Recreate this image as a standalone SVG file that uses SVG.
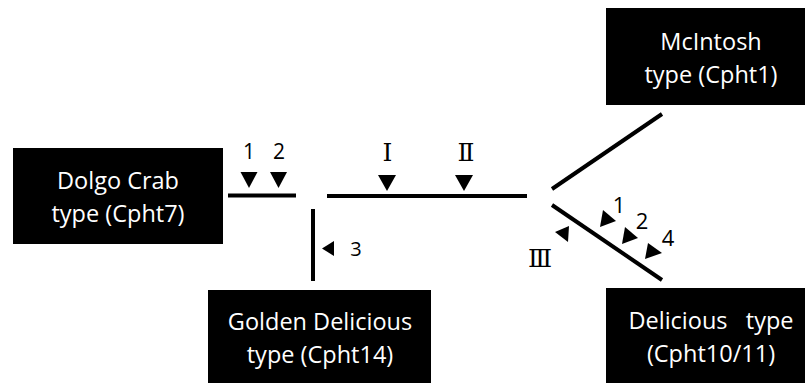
<svg xmlns="http://www.w3.org/2000/svg" width="805" height="383" viewBox="0 0 805 383">
<style>
.box{fill:#000}
.bt{fill:#fff;font-family:"Open Sans","Noto Sans",sans-serif;font-size:23.5px;text-anchor:middle}
.ln{stroke:#000;stroke-width:4;fill:none}
.tri{fill:#000}
.num{fill:#000;font-family:"Open Sans","Noto Sans",sans-serif;text-anchor:middle}
.rom{fill:#000;font-family:"DejaVu Serif","Noto Sans CJK JP",serif;text-anchor:middle}
</style>
<rect width="805" height="383" fill="#fff"/>
<g id="dolgo">
<rect class="box" x="13" y="148" width="210" height="96"/>
<text class="bt" x="118" y="189">Dolgo Crab</text>
<text class="bt" x="118" y="222">type (Cpht7)</text>
</g>
<g id="mcintosh">
<rect class="box" x="606" y="8" width="199" height="97"/>
<text class="bt" x="711" y="50">McIntosh</text>
<text class="bt" x="711" y="83">type (Cpht1)</text>
</g>
<g id="golden">
<rect class="box" x="208" y="290" width="223" height="93"/>
<text class="bt" x="320" y="330">Golden Delicious</text>
<text class="bt" x="320" y="363">type (Cpht14)</text>
</g>
<g id="delicious">
<rect class="box" x="606" y="288" width="199" height="95"/>
<text class="bt" x="711" y="329" xml:space="preserve">Delicious   type</text>
<text class="bt" x="711" y="362">(Cpht10/11)</text>
</g>
<g id="connectors">
<line class="ln" x1="228" y1="195.5" x2="296" y2="195.5"/>
<line class="ln" x1="313" y1="209" x2="313" y2="281"/>
<line class="ln" x1="327" y1="196" x2="527" y2="196"/>
<line class="ln" x1="552" y1="189" x2="662" y2="114"/>
<line class="ln" x1="552" y1="205" x2="662" y2="280"/>
</g>
<g id="markers">
<polygon class="tri" points="240.5,172 257.5,172 249,188"/>
<polygon class="tri" points="270,172 287,172 278.5,188"/>
<polygon class="tri" points="378,175 396,175 387,191"/>
<polygon class="tri" points="455,175 473,175 464,191"/>
<polygon class="tri" points="334,241 334,256 322,248.5"/>
<polygon class="tri" points="603,210 600,227 616,221"/>
<polygon class="tri" points="625,227 622,244 638,238"/>
<polygon class="tri" points="648,243 645,259 662,253"/>
<polygon class="tri" points="555,232 569,226 568,242"/>
</g>
<g id="labels">
<text class="num" x="249" y="159" font-size="21">1</text>
<text class="num" x="279" y="159" font-size="21">2</text>
<text class="num" x="356" y="256" font-size="20">3</text>
<text class="num" x="619" y="213" font-size="22">1</text>
<text class="num" x="642" y="229" font-size="22">2</text>
<text class="num" x="668" y="246" font-size="22">4</text>
<text class="rom" x="387.5" y="161" font-size="25">Ⅰ</text>
<text class="rom" x="466" y="161" font-size="25">Ⅱ</text>
<text class="rom" x="540" y="267" font-size="25">Ⅲ</text>
</g>
</svg>
